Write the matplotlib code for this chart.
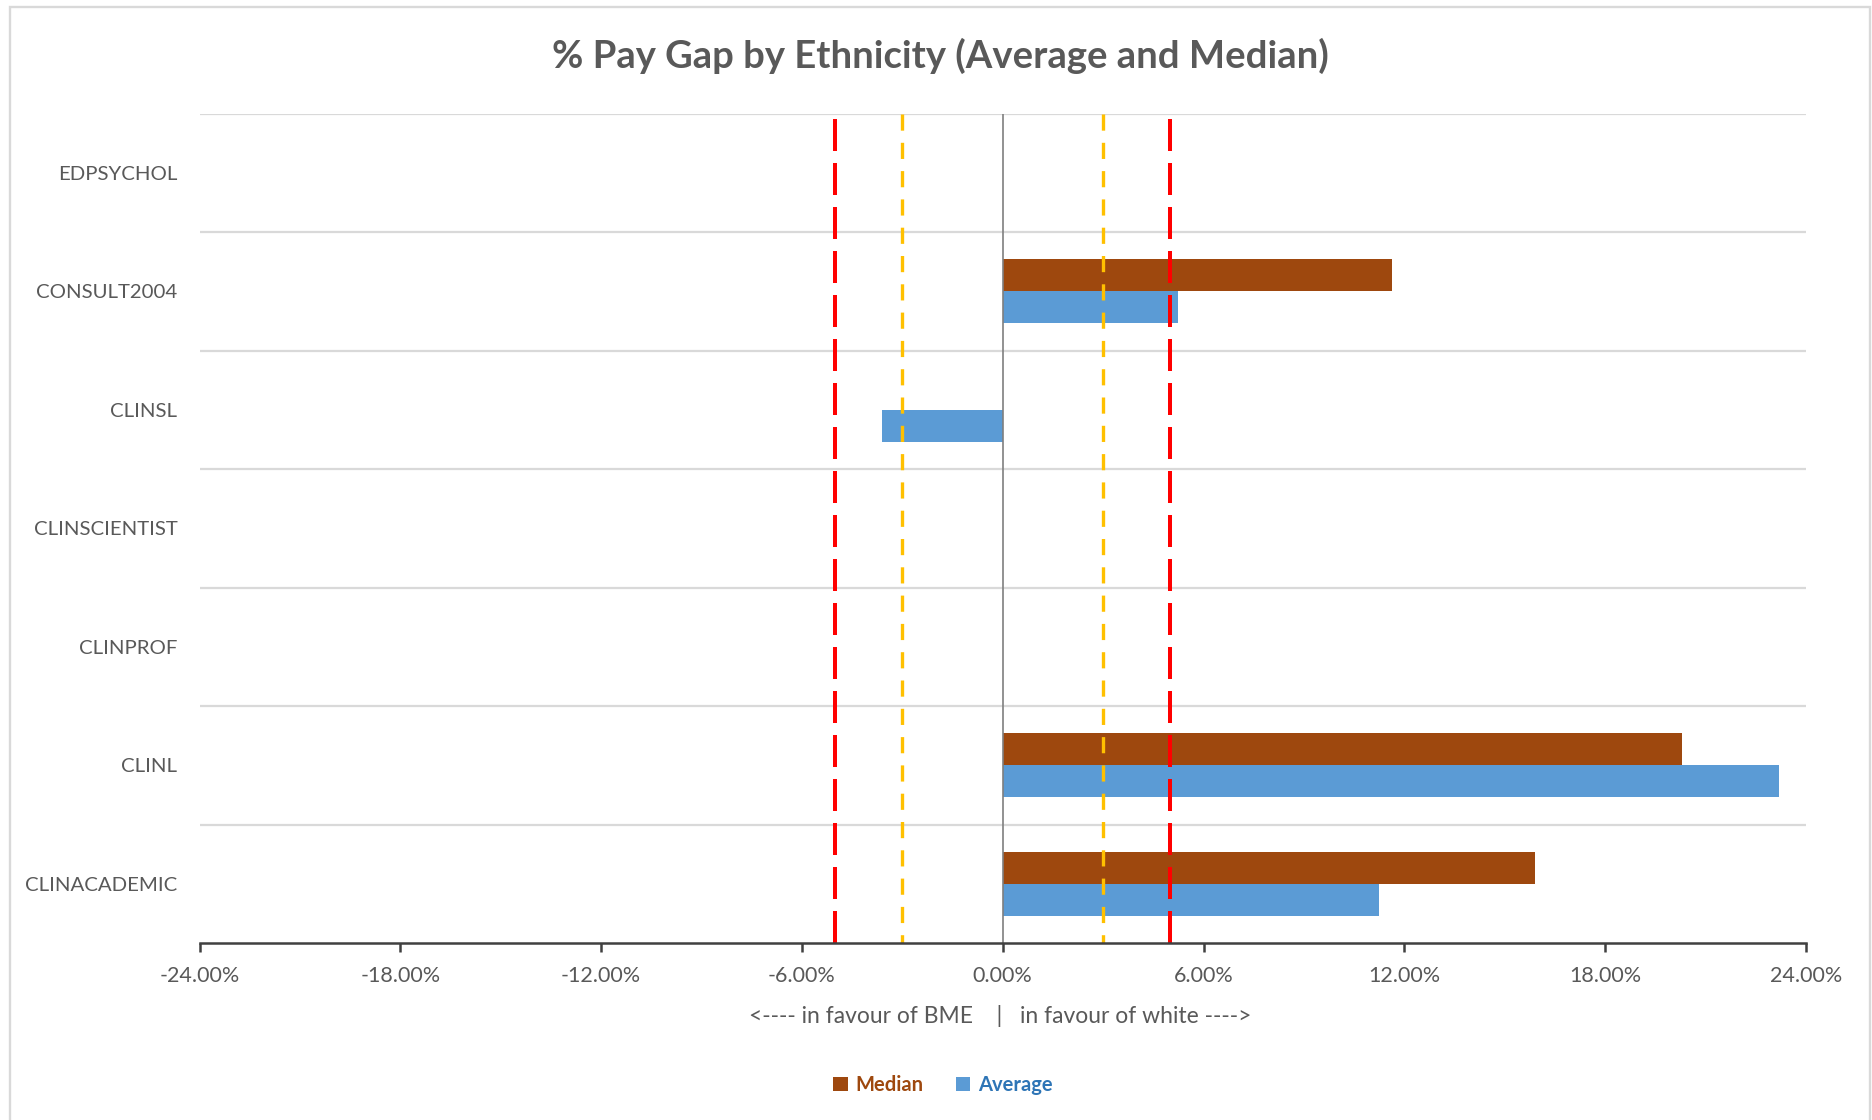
import numpy as np
import matplotlib
matplotlib.use("Agg")
import matplotlib.pyplot as plt
from matplotlib.patches import Patch, Rectangle
from matplotlib.ticker import FuncFormatter, FixedLocator

plt.rcParams['font.family'] = ['Lato', 'DejaVu Sans']

# ---- data ----
categories = ["CLINACADEMIC", "CLINL", "CLINPROF", "CLINSCIENTIST", "CLINSL", "CONSULT2004", "EDPSYCHOL"]
median_gap = [15.9, 20.3, np.nan, np.nan, np.nan, 11.62, np.nan]
average_gap = [11.25, 23.2, np.nan, np.nan, -3.61, 5.23, np.nan]
red_lines = [-5.0, 5.0]
yellow_lines = [-3.0, 3.0]
xticks = [-24, -18, -12, -6, 0, 6, 12, 18, 24]

title = "% Pay Gap by Ethnicity (Average and Median)"
xlabel = "<---- in favour of BME    |   in favour of white ---->"

c_median = "#9E480E"
c_average = "#5B9BD5"
c_text = "#595959"

W, H = 1872, 1120
fig = plt.figure(figsize=(W / 100, H / 100), dpi=100)
ax = fig.add_axes([199.5 / W, 1 - 943 / H, (1806 - 199.5) / W, (943 - 113.7) / H])

y = np.arange(len(categories))
bh = 0.27
ax.barh(y + bh / 2, median_gap, height=bh, color=c_median, zorder=2, label="Median")
ax.barh(y - bh / 2, average_gap, height=bh, color=c_average, zorder=2, label="Average")

ax.set_ylim(-0.5, len(categories) - 0.5)
ax.set_xlim(-24, 24)

# horizontal gridlines at category boundaries
for b in np.arange(-0.5, len(categories), 1.0)[1:]:
    ax.axhline(b, color="#D9D9D9", lw=1.6, zorder=1)

# zero line (vertical axis)
ax.axvline(0, color="#7F7F7F", lw=1.2, zorder=3)

# reference dashed lines (drawn top -> bottom so the dash phase starts at the top)
tr = ax.get_xaxis_transform()
for xv in red_lines:
    ax.plot([xv, xv], [0.994, 0.0], transform=tr, color="#FF0000", lw=2.88,
            dashes=(8, 3), dash_capstyle='butt', zorder=4)
for xv in yellow_lines:
    ax.plot([xv, xv], [1.0, 0.0], transform=tr, color="#FFC000", lw=2.4,
            dashes=(4.85, 3.64), dash_capstyle='butt', zorder=4)

# axes styling
for s in ["top", "right", "left"]:
    ax.spines[s].set_visible(False)
ax.spines["bottom"].set_color("#404040")
ax.spines["bottom"].set_linewidth(1.8)
ax.spines["bottom"].set_zorder(5)

ax.xaxis.set_major_locator(FixedLocator(xticks))
ax.xaxis.set_major_formatter(FuncFormatter(lambda v, p: f"{v:.2f}%".replace("\u2212", "-")))
ax.tick_params(axis="x", direction="out", length=6.5, width=1.8, color="#404040",
               labelsize=15.5, labelcolor=c_text, pad=10)
ax.set_yticks(y)
ax.set_yticklabels(categories)
ax.tick_params(axis="y", length=0, labelsize=14.7, labelcolor=c_text, pad=16)

# title
fig.text(940 / W, 1 - 68 / H, title, ha="center", va="baseline", fontsize=27.5,
         fontweight="bold", color=c_text)
# x label
fig.text(1000 / W, 1 - 1023 / H, xlabel, ha="center", va="baseline", fontsize=16.5, color=c_text)

# legend
handles = [Patch(facecolor=c_median, label="Median"), Patch(facecolor=c_average, label="Average")]
leg = fig.legend(handles=handles, loc="center", bbox_to_anchor=(943 / W, 1 - 1085 / H), ncol=2,
                 frameon=False, handlelength=0.7, handleheight=0.7, handletextpad=0.4,
                 columnspacing=1.6, prop={"size": 14.5, "weight": "bold"},
                 labelcolor=[c_median, "#2E75B6"])

# chart-area border
fig.add_artist(Rectangle((9.5 / W, -0.01), (1870 - 9.5) / W, 1.01 - 7 / H, transform=fig.transFigure,
                         fill=False, edgecolor="#D9D9D9", lw=1.7))

fig.savefig("out.png", dpi=100)
